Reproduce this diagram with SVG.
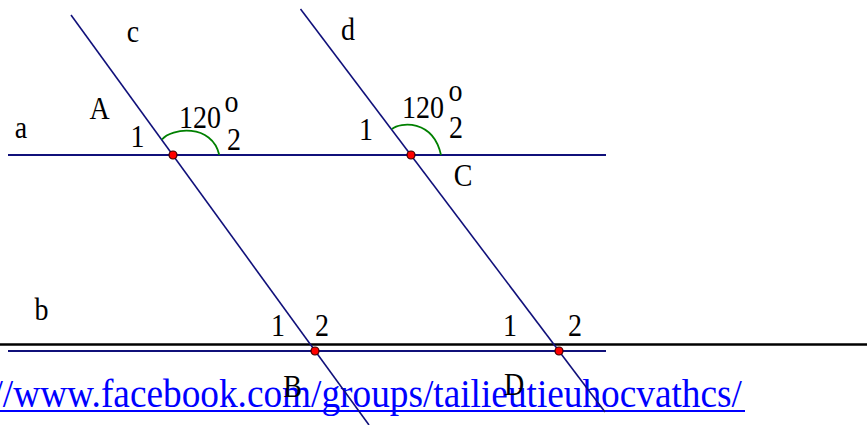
<svg xmlns="http://www.w3.org/2000/svg" width="867" height="425" viewBox="0 0 867 425">
<style>
.ln{stroke:#10107a;stroke-width:1.6;fill:none}
.hl{stroke:#10107a;stroke-width:2;fill:none}
.arc{stroke:#008000;stroke-width:1.8;fill:none}
.pt{fill:#ff0000;stroke:#3a0000;stroke-width:1.2}
.lb{font-family:"Liberation Serif","Times New Roman",serif;font-size:28px;fill:#000;text-anchor:middle;transform-box:fill-box;transform-origin:center bottom;transform:translateY(0.7px) scaleY(1.12)}
.url{font-family:"Liberation Serif","Times New Roman",serif;font-size:37.3px;fill:#0000ff;transform-box:fill-box;transform-origin:left bottom;transform:translateY(0.6px) scaleY(1.08)}
</style>
<rect width="867" height="425" fill="#fff"/>
<g id="frame-line">
<line x1="0" y1="344.5" x2="867" y2="344.5" stroke="#000" stroke-width="2.5"/>
</g>
<g id="url">
<text class="url" x="-7.5" y="406.8">//www.facebook.com/groups/tailieutieuhocvathcs/</text>
<line x1="0" y1="411" x2="745" y2="411" stroke="#0000ff" stroke-width="2"/>
</g>
<g id="connectors">
<line id="line-a" class="hl" x1="8" y1="155" x2="606" y2="155"/>
<line id="line-b" class="hl" x1="8" y1="351" x2="606" y2="351"/>
<line id="line-c" class="ln" x1="71" y1="15" x2="369" y2="425"/>
<line id="line-d" class="ln" x1="300.5" y1="9" x2="605" y2="412"/>
</g>
<g id="angle-A">
<path class="arc" d="M162,139.5 C171,128 212,123 219.3,155"/>
</g>
<g id="angle-C">
<path class="arc" d="M392,129 C400,122 433,119 441,155"/>
</g>
<g id="node-A">
<circle class="pt" cx="173" cy="155" r="4"/>
<text class="lb" x="99.5" y="119">A</text>
<text class="lb" x="137.5" y="146.5">1</text>
<text class="lb" x="200" y="128">120</text>
<text class="lb" x="231.5" y="111.5">o</text>
<text class="lb" x="234" y="150">2</text>
</g>
<g id="node-C">
<circle class="pt" cx="411" cy="155" r="4"/>
<text class="lb" x="463" y="186">C</text>
<text class="lb" x="366" y="140">1</text>
<text class="lb" x="423" y="117.5">120</text>
<text class="lb" x="455.5" y="100.5">o</text>
<text class="lb" x="456" y="137.5">2</text>
</g>
<g id="node-B">
<circle class="pt" cx="315" cy="351" r="4"/>
<text class="lb" x="292.5" y="396.5">B</text>
<text class="lb" x="278" y="336">1</text>
<text class="lb" x="322" y="336">2</text>
</g>
<g id="node-D">
<circle class="pt" cx="559" cy="351" r="4"/>
<text class="lb" x="514" y="395">D</text>
<text class="lb" x="510" y="336">1</text>
<text class="lb" x="575" y="336">2</text>
</g>
<g id="line-labels">
<text class="lb" x="21" y="138">a</text>
<text class="lb" x="41.5" y="320">b</text>
<text class="lb" x="133" y="42">c</text>
<text class="lb" x="348" y="40">d</text>
</g>
</svg>
